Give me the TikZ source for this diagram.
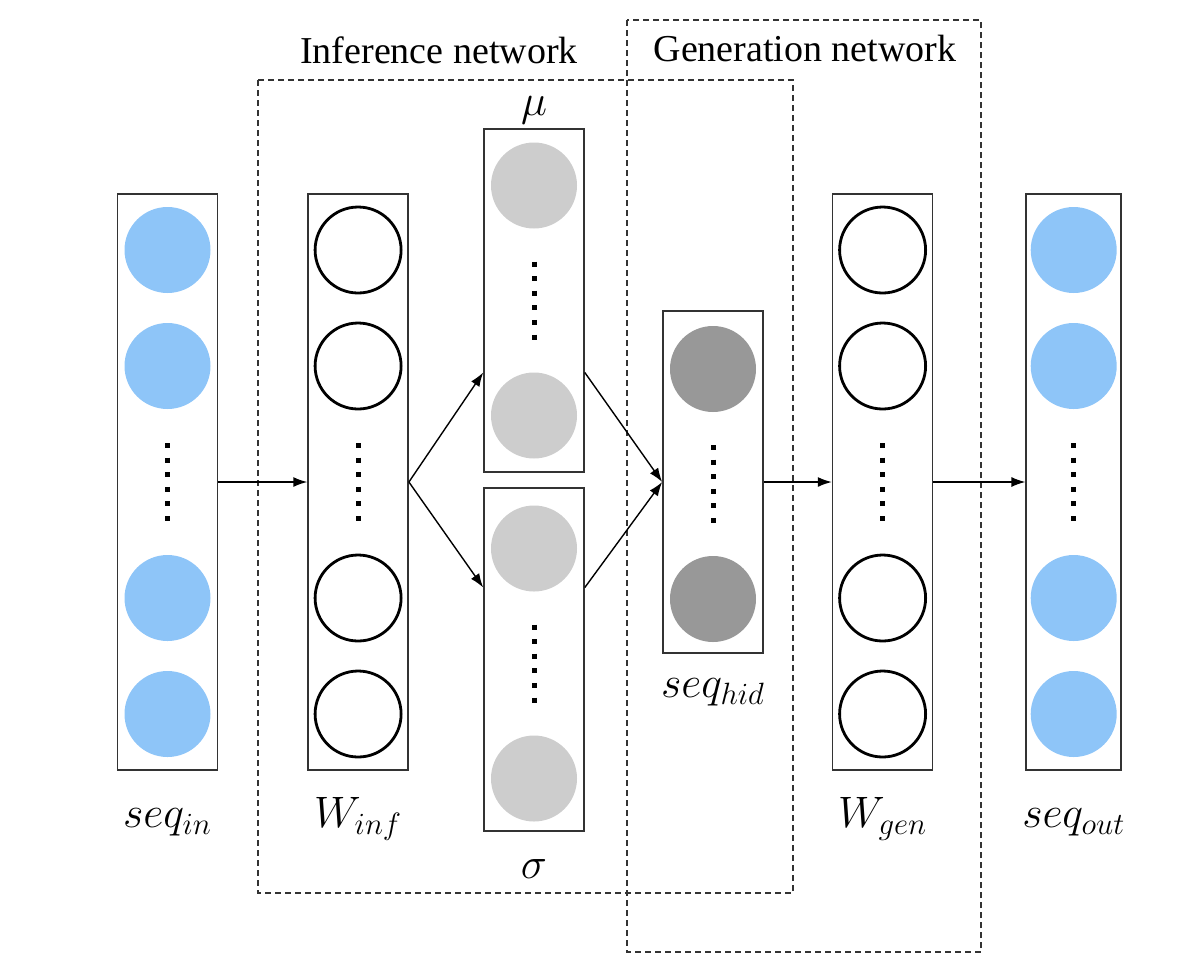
\RequirePackage{fix-cm}
\documentclass[tikz,border=0pt]{standalone}
\usepackage{fontspec}
\setmainfont{Liberation Serif}
\usetikzlibrary{arrows.meta, positioning}
\definecolor{unitblue}{RGB}{142,197,248}
\definecolor{unitlight}{RGB}{205,205,205}
\definecolor{unitdark}{RGB}{152,152,152}

\begin{document}
\begin{tikzpicture}[
  x=0.5pt, y=-0.5pt,
  layer/.style    ={rectangle, draw=black!80, line width=0.8pt, minimum width=50pt, inner sep=0pt},
  tall/.style     ={layer, minimum height=288pt},
  short/.style    ={layer, minimum height=171.5pt},
  unit/.style     ={circle, minimum size=43pt, inner sep=0pt},
  blueunit/.style ={unit, fill=unitblue},
  openunit/.style ={unit, draw=black, line width=1.4pt},
  lightunit/.style={unit, fill=unitlight},
  darkunit/.style ={unit, fill=unitdark},
  vdots/.style    ={line width=2.5pt, dash pattern=on 2.5pt off 4.8pt},
  dashbox/.style  ={draw=black!80, line width=0.7pt, dash pattern=on 3pt off 2pt},
  arrow/.style    ={-{Latex[length=7pt,width=5pt]}, line width=0.7pt},
  title/.style    ={font=\fontsize{19}{22}\selectfont, anchor=base},
  lbl/.style      ={font=\fontsize{22}{26}\selectfont, anchor=base},
]
  \useasboundingbox (0,0) rectangle (1199,960);

  % group frames
  \draw[dashbox] (258,80) rectangle (793,893);
  \draw[dashbox] (627,20) rectangle (981,952);
  \node[title] (inftitle) at (439,63) {Inference network};
  \node[title] (gentitle) at (805,61) {Generation network};

  % layers
  \node[tall]                   (in)   at (167.5,482) {};
  \node[tall, right=44.5pt of in] (winf) {};
  \node[short]                  (mu)   at (534,300.5) {};
  \node[short]                  (sig)  at (534,659.5) {};
  \node[layer, minimum height=171pt] (hid) at (713,482) {};
  \node[tall, right=34pt of hid]  (wgen) {};
  \node[tall, minimum width=47.5pt, right=46pt of wgen] (out) {};

  \foreach \col/\sty in {in/blueunit, winf/openunit, wgen/openunit, out/blueunit}{
    \foreach \k/\dy in {1/116, 2/58, 3/-58, 4/-116}
      \node[\sty] (\col-\k) at ([yshift=\dy pt]\col.center) {};
    \draw[vdots] ([yshift=19.5pt]\col.center) -- ([yshift=-19.5pt]\col.center);
  }
  \foreach \col/\sty/\s in {mu/lightunit/0pt, sig/lightunit/-2pt, hid/darkunit/-1pt}{
    \node[\sty] (\col-1) at ([yshift=\s+57.5pt]\col.center) {};
    \node[\sty] (\col-2) at ([yshift=\s-57.5pt]\col.center) {};
    \draw[vdots] ([yshift=\s+19.5pt]\col.center) -- ([yshift=\s-19.5pt]\col.center);
  }

  % labels
  \node[lbl] (inlbl)   at ([yshift=-28.5pt]in.south)   {$seq_{in}$};
  \node[lbl] (winflbl) at ([yshift=-28.5pt]winf.south) {$W_{inf}$};
  \node[lbl] (mulbl)   at ([yshift=6.5pt]mu.north)     {$\mu$};
  \node[lbl] (siglbl)  at ([yshift=-23.5pt]sig.south)  {$\sigma$};
  \node[lbl] (hidlbl)  at ([yshift=-22pt]hid.south)    {$seq_{hid}$};
  \node[lbl] (wgenlbl) at ([yshift=-28.5pt]wgen.south) {$W_{gen}$};
  \node[lbl] (outlbl)  at ([yshift=-28.5pt]out.south)  {$seq_{out}$};

  % connections
  \draw[arrow] (in) -- (winf);
  \draw[arrow] (winf.east) -- ([yshift=-36pt]mu.west);
  \draw[arrow] (winf.east) -- ([yshift=36pt]sig.west);
  \draw[arrow] ([yshift=-36pt]mu.east) -- (hid.west);
  \draw[arrow] ([yshift=36pt]sig.east) -- (hid.west);
  \draw[arrow] (hid) -- (wgen);
  \draw[arrow] (wgen) -- (out);
\end{tikzpicture}
\end{document}
